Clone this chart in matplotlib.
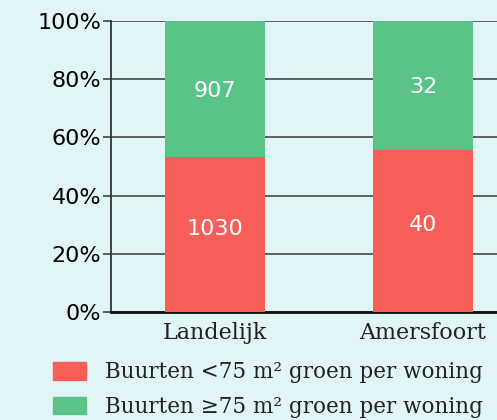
import matplotlib.pyplot as plt
from matplotlib.patches import Patch

categories = ["Landelijk", "Amersfoort"]
klein = [1030, 40]   # buurten < 75 m2 groen per woning
groot = [907, 32]    # buurten >= 75 m2 groen per woning
labels = ["Buurten <75 m\u00b2 groen per woning", "Buurten \u226575 m\u00b2 groen per woning"]

bg = "#e1f5f7"
red = "#f65e5a"
green = "#5ac387"

totals = [a + b for a, b in zip(klein, groot)]
pct_klein = [a / t * 100 for a, t in zip(klein, totals)]
pct_groot = [b / t * 100 for b, t in zip(groot, totals)]

fig = plt.figure(figsize=(4.97, 4.2), dpi=100, facecolor=bg)
ax = fig.add_axes([111 / 497, 108 / 420, 416 / 497, 291 / 420])
ax.set_facecolor(bg)

x = range(len(categories))
ax.bar(x, pct_klein, width=0.48, color=red, zorder=3)
ax.bar(x, pct_groot, width=0.48, bottom=pct_klein, color=green, zorder=3)

for i in x:
    ax.text(i, pct_klein[i] / 2 + 2, str(klein[i]), ha="center", va="center",
            color="white", fontsize=16, zorder=4)
    ax.text(i, pct_klein[i] + pct_groot[i] / 2 - 0.5, str(groot[i]), ha="center",
            va="center", color="white", fontsize=16, zorder=4)

ax.set_xlim(-0.5, 1.5)
ax.set_ylim(0, 100)
ax.set_yticks([0, 20, 40, 60, 80, 100])
ax.set_yticklabels(["0%", "20%", "40%", "60%", "80%", "100%"], fontsize=16)
ax.set_xticks(list(x))
ax.set_xticklabels(categories, fontsize=16, family="DejaVu Serif", color="#222222")
ax.tick_params(axis="x", length=0, pad=7)
ax.tick_params(axis="y", length=6, width=1.2, color="#444444", pad=1)
ax.yaxis.grid(True, color="#555555", linewidth=1.3, zorder=0)

for s in ["top", "right"]:
    ax.spines[s].set_visible(False)
ax.spines["left"].set_color("#333333")
ax.spines["left"].set_linewidth(1.3)
ax.spines["bottom"].set_color("#111111")
ax.spines["bottom"].set_linewidth(2)

handles = [Patch(color=red), Patch(color=green)]
fig.legend(handles, labels, loc="upper left", bbox_to_anchor=(53 / 497, 1 - 361 / 420),
           frameon=False, prop={"family": "DejaVu Serif", "size": 15.5},
           handlelength=1.55, handleheight=0.9, handletextpad=0.85,
           labelspacing=0.6, borderaxespad=0, borderpad=0, labelcolor="#222222")

fig.savefig("out.png", dpi=100, facecolor=bg)
